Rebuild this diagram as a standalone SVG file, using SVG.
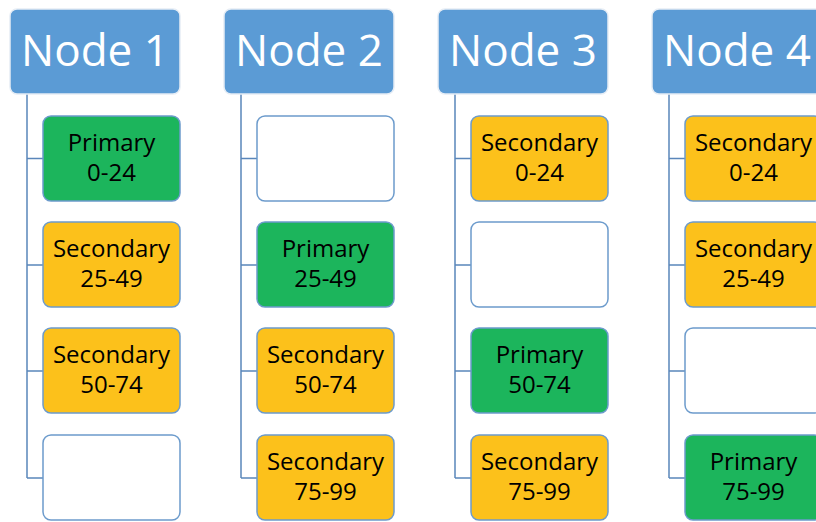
<svg xmlns="http://www.w3.org/2000/svg" width="816" height="522" viewBox="0 0 816 522">
<style>
.hd{fill:#5B9BD5;stroke:#E6EDF5;stroke-width:1.5}
.ht{fill:#fff;font-family:"Open Sans","Noto Sans",sans-serif;font-size:44px;text-anchor:middle}
.bx{stroke:#6C9BCC;stroke-width:1.5}
.g{fill:#1CB55C}.y{fill:#FCC11B}.e{fill:#FFFFFF}
.t{fill:#000;font-family:"Open Sans","Noto Sans",sans-serif;font-size:24px;text-anchor:middle}
.ln{stroke:#5A86BA;stroke-width:1.5;fill:none}
</style>
<g id="connectors">
<path class="ln" d="M27 94V478M27 158.5H43M27 265H43M27 371H43M27 478H43"/>
<path class="ln" d="M241 94V478M241 158.5H257M241 265H257M241 371H257M241 478H257"/>
<path class="ln" d="M455 94V478M455 158.5H471M455 265H471M455 371H471M455 478H471"/>
<path class="ln" d="M669 94V478M669 158.5H685M669 265H685M669 371H685M669 478H685"/>
</g>
<g id="node1"><rect class="hd" x="10" y="9" width="170" height="85" rx="7"/><text class="ht" x="95" y="66">Node 1</text></g>
<g id="node2"><rect class="hd" x="224" y="9" width="170" height="85" rx="7"/><text class="ht" x="309" y="66">Node 2</text></g>
<g id="node3"><rect class="hd" x="438" y="9" width="170" height="85" rx="7"/><text class="ht" x="523" y="66">Node 3</text></g>
<g id="node4"><rect class="hd" x="652" y="9" width="170" height="85" rx="7"/><text class="ht" x="737" y="66">Node 4</text></g>

<g id="n1a"><rect class="bx g" x="43" y="116" width="137" height="85" rx="8"/><text class="t" x="111.5" y="151">Primary</text><text class="t" x="111.5" y="181">0-24</text></g>
<g id="n1b"><rect class="bx y" x="43" y="222" width="137" height="85" rx="8"/><text class="t" x="111.5" y="257">Secondary</text><text class="t" x="111.5" y="287">25-49</text></g>
<g id="n1c"><rect class="bx y" x="43" y="328" width="137" height="85" rx="8"/><text class="t" x="111.5" y="363">Secondary</text><text class="t" x="111.5" y="393">50-74</text></g>
<g id="n1d"><rect class="bx e" x="43" y="435" width="137" height="85" rx="8"/></g>

<g id="n2a"><rect class="bx e" x="257" y="116" width="137" height="85" rx="8"/></g>
<g id="n2b"><rect class="bx g" x="257" y="222" width="137" height="85" rx="8"/><text class="t" x="325.5" y="257">Primary</text><text class="t" x="325.5" y="287">25-49</text></g>
<g id="n2c"><rect class="bx y" x="257" y="328" width="137" height="85" rx="8"/><text class="t" x="325.5" y="363">Secondary</text><text class="t" x="325.5" y="393">50-74</text></g>
<g id="n2d"><rect class="bx y" x="257" y="435" width="137" height="85" rx="8"/><text class="t" x="325.5" y="470">Secondary</text><text class="t" x="325.5" y="500">75-99</text></g>

<g id="n3a"><rect class="bx y" x="471" y="116" width="137" height="85" rx="8"/><text class="t" x="539.5" y="151">Secondary</text><text class="t" x="539.5" y="181">0-24</text></g>
<g id="n3b"><rect class="bx e" x="471" y="222" width="137" height="85" rx="8"/></g>
<g id="n3c"><rect class="bx g" x="471" y="328" width="137" height="85" rx="8"/><text class="t" x="539.5" y="363">Primary</text><text class="t" x="539.5" y="393">50-74</text></g>
<g id="n3d"><rect class="bx y" x="471" y="435" width="137" height="85" rx="8"/><text class="t" x="539.5" y="470">Secondary</text><text class="t" x="539.5" y="500">75-99</text></g>

<g id="n4a"><rect class="bx y" x="685" y="116" width="137" height="85" rx="8"/><text class="t" x="753.5" y="151">Secondary</text><text class="t" x="753.5" y="181">0-24</text></g>
<g id="n4b"><rect class="bx y" x="685" y="222" width="137" height="85" rx="8"/><text class="t" x="753.5" y="257">Secondary</text><text class="t" x="753.5" y="287">25-49</text></g>
<g id="n4c"><rect class="bx e" x="685" y="328" width="137" height="85" rx="8"/></g>
<g id="n4d"><rect class="bx g" x="685" y="435" width="137" height="85" rx="8"/><text class="t" x="753.5" y="470">Primary</text><text class="t" x="753.5" y="500">75-99</text></g>
</svg>
